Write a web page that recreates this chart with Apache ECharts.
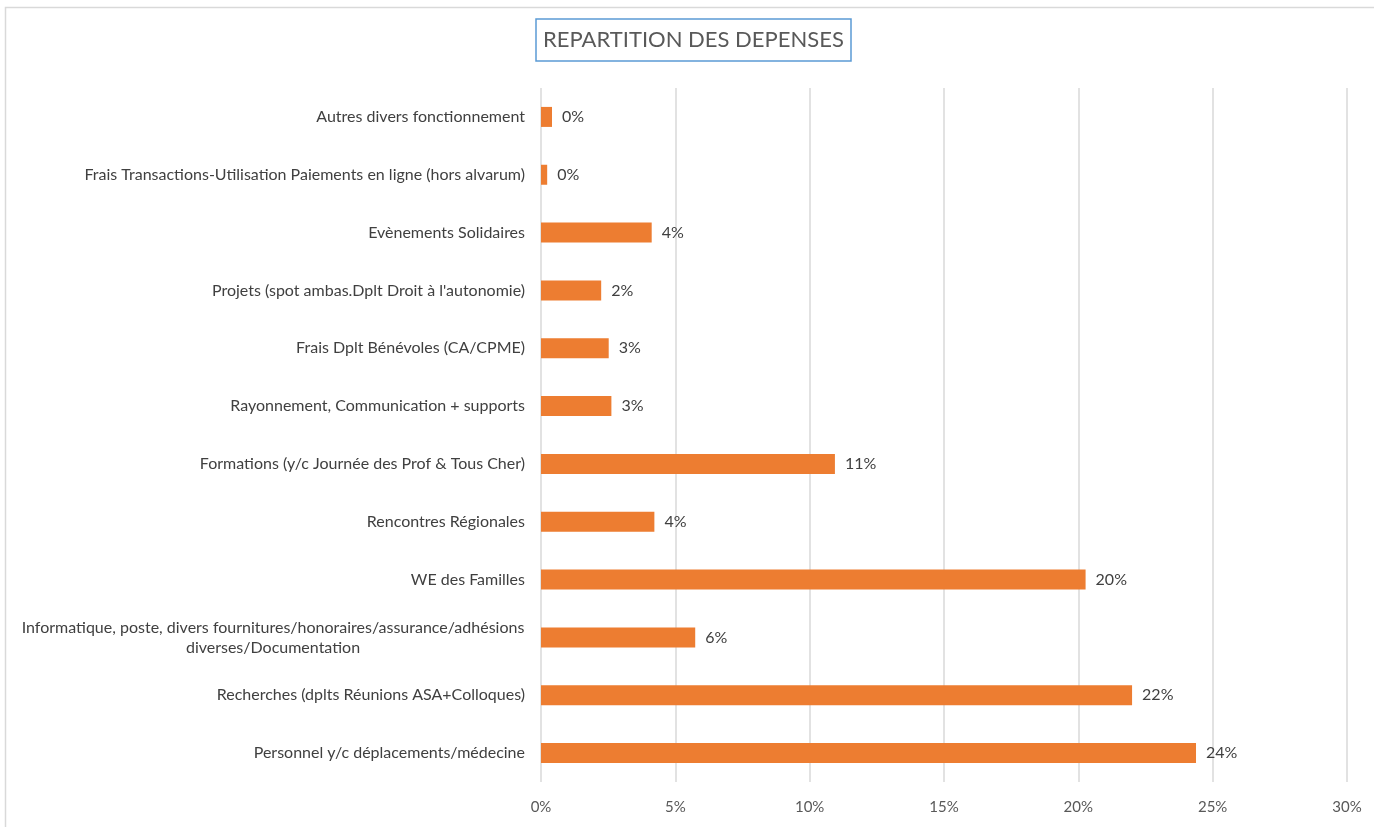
<!DOCTYPE html>
<html><head><meta charset="utf-8">
<script src="https://cdn.jsdelivr.net/npm/echarts@6/dist/echarts.min.js"></script>
<style>html,body{margin:0;padding:0;background:#fff}#c{width:1374px;height:827px}</style>
</head><body><div id="c"></div>
<script>
const titleText = 'REPARTITION DES DEPENSES';
const categories = [
  'Autres divers fonctionnement',
  'Frais Transactions-Utilisation Paiements en ligne (hors alvarum)',
  'Evènements Solidaires',
  "Projets (spot ambas.Dplt Droit à l'autonomie)",
  'Frais Dplt Bénévoles (CA/CPME)',
  'Rayonnement, Communication + supports',
  'Formations (y/c Journée des Prof & Tous Cher)',
  'Rencontres Régionales',
  'WE des Familles',
  'Informatique, poste, divers fournitures/honoraires/assurance/adhésions\ndiverses/Documentation',
  'Recherches (dplts Réunions ASA+Colloques)',
  'Personnel y/c déplacements/médecine'
];
const values = [0.41, 0.23, 4.12, 2.24, 2.52, 2.62, 10.94, 4.22, 20.27, 5.74, 22.0, 24.38];
const xTicks = [0, 5, 10, 15, 20, 25, 30];

const FONT = 'Lato, "Open Sans", sans-serif';
const chart = echarts.init(document.getElementById('c'));
chart.setOption({
  animation: false,
  textStyle: {fontFamily: FONT},
  graphic: [{type: 'rect', left: 3, top: 5, shape: {width: 1500, height: 900}, style: {fill: 'none', stroke: '#d9d9d9', lineWidth: 1.5}, silent: true}],
  title: {
    text: titleText, left: 536, top: 19,
    padding: [10, 7, 10, 7],
    borderColor: '#5b9bd5', borderWidth: 1.5,
    textStyle: {fontFamily: FONT, fontSize: 22, fontWeight: 'normal', color: '#595959'}
  },
  grid: {left: 541, right: 27, top: 88, bottom: 45, containLabel: false},
  xAxis: {
    type: 'value', min: xTicks[0], max: xTicks[xTicks.length - 1], interval: 5,
    axisLine: {show: false}, axisTick: {show: false},
    splitLine: {lineStyle: {color: '#d9d9d9', width: 1.5}},
    axisLabel: {formatter: v => v + '%', color: '#595959', fontSize: 15, margin: 18, fontFamily: FONT}
  },
  yAxis: {
    type: 'category', data: categories, inverse: true,
    axisLine: {show: false}, axisTick: {show: false},
    axisLabel: {
      color: '#404040', fontSize: 16, margin: 16, fontFamily: FONT,
      formatter: v => v.indexOf('\n') >= 0 ? v.split('\n').map(s => '{w|' + s + '}').join('\n') : v,
      rich: {w: {width: 504, align: 'center', fontSize: 16, color: '#404040', fontFamily: FONT, lineHeight: 20}}
    }
  },
  series: [{
    type: 'bar', data: values, barWidth: 20,
    itemStyle: {color: '#ed7d31'},
    label: {show: true, position: 'right', distance: 10, formatter: p => Math.round(p.value) + '%', color: '#404040', fontSize: 16, fontFamily: FONT}
  }]
});
</script></body></html>
